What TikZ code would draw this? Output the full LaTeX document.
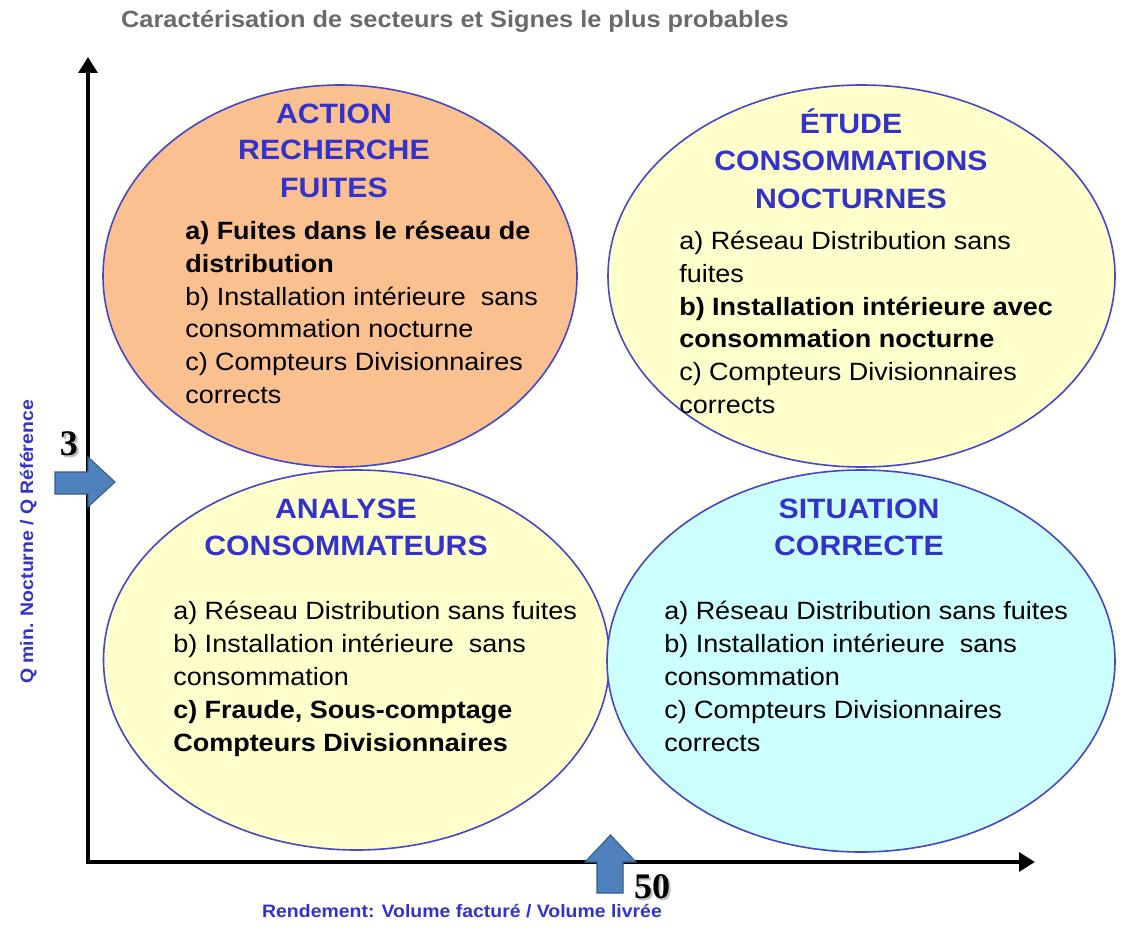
\documentclass[tikz,border=0pt]{standalone}
\usepackage{fontspec}
\setmainfont{Liberation Sans}[FakeStretch=1.08]
\newfontfamily\numfont{Liberation Serif}
\usetikzlibrary{shapes.geometric,arrows.meta}
\definecolor{ellborder}{HTML}{4646C8}
\definecolor{headblue}{HTML}{3333CC}
\definecolor{orangefill}{HTML}{FAC090}
\definecolor{yellowfill}{HTML}{FFFFCC}
\definecolor{cyanfill}{HTML}{CCFFFF}
\definecolor{titlegray}{HTML}{6A6A6A}
\definecolor{blockfill}{HTML}{4F81BD}
\definecolor{blockdraw}{HTML}{385D8A}
\tikzset{
  sector/.style={ellipse, draw=ellborder, line width=1.2pt, inner sep=0pt},
  headtxt/.style={anchor=base, inner sep=0pt, text=headblue, font=\fontsize{21}{27}\selectfont\bfseries},
  bodytxt/.style={anchor=base west, inner sep=0pt, font=\fontsize{18.75}{24}\selectfont},
  bodybold/.style={anchor=base west, inner sep=0pt, font=\fontsize{18.75}{24}\selectfont\bfseries},
  axislabel/.style={anchor=base, inner sep=0pt, text=headblue, font=\fontsize{13.5}{16}\selectfont\bfseries},
  numtxt/.style={anchor=base, inner sep=0pt, font=\fontsize{27}{30}\numfont\bfseries},
  numshadow/.style={numtxt, text=black!25},
  axisline/.style={line width=3pt, -{Triangle[width=14pt,length=12pt]}},
  blockarrow/.style={fill=blockfill, draw=blockdraw, line width=0.8pt, line join=miter}
}
\begin{document}
\begin{tikzpicture}[x=0.75pt,y=-0.75pt]
\useasboundingbox (0,0) rectangle (1129,931);
\fill[white] (0,0) rectangle (1129,931);

% title
\node[anchor=base, inner sep=0pt, text=titlegray, font=\fontsize{17.6}{20}\selectfont\bfseries] (title) at (455,28) {Caractérisation de secteurs et Signes le plus probables};

% ellipses
\node[sector, fill=orangefill, minimum width=355.5pt, minimum height=286.5pt] (tl) at (340,276) {};
\node[sector, fill=yellowfill, minimum width=380.25pt, minimum height=286.5pt] (tr) at (861.5,276) {};
\node[sector, fill=yellowfill, minimum width=379.5pt, minimum height=285pt] (bl) at (356.5,660) {};
\node[sector, fill=cyanfill, minimum width=381pt, minimum height=286.5pt] (br) at (861,661) {};

% axes
\coordinate (origin) at (88,862);
\coordinate (ytop) at (88,57);
\coordinate (xend) at (1035,862);
\coordinate (ystart) at (88,863.5);
\coordinate (xstart) at (86.5,862);
\draw[axisline] (ystart) -- (ytop);
\draw[axisline] (xstart) -- (xend);

% block arrows
\draw[blockarrow] (55,472) -- (88,472) -- (88,457) -- (115,482) -- (88,507) -- (88,494) -- (55,494) -- cycle;
\draw[blockarrow] (597,893) -- (597,862) -- (585,862) -- (610.5,835) -- (636,862) -- (623,862) -- (623,893) -- cycle;

% numbers
\node[numshadow] (threesh) at (71,457) {3};
\node[numtxt] (three) at (69,455) {3};
\node[numshadow] (fiftysh) at (654,900) {50};
\node[numtxt] (fifty) at (652,898) {50};

% axis labels
\node[axislabel] (xlabel) at (462,917) {Rendement: Volume facturé / Volume livrée};
\node[axislabel, rotate=90] (ylabel) at (33,542) {Q min. Nocturne / Q Référence};

% top-left
\node[headtxt] (tlh1) at (334,123) {ACTION};
\node[headtxt] (tlh2) at (334,160) {RECHERCHE};
\node[headtxt] (tlh3) at (334,197) {FUITES};
\node[bodybold] (tl1) at (185,239) {a) Fuites dans le réseau de};
\node[bodybold] (tl2) at (185,272) {distribution};
\node[bodytxt] (tl3) at (185,305) {b) Installation intérieure~~sans};
\node[bodytxt] (tl4) at (185,337) {consommation nocturne};
\node[bodytxt] (tl5) at (185,370) {c) Compteurs Divisionnaires};
\node[bodytxt] (tl6) at (185,403) {corrects};

% top-right
\node[headtxt] (trh1) at (851,133) {ÉTUDE};
\node[headtxt] (trh2) at (851,171) {CONSOMMATIONS};
\node[headtxt] (trh3) at (851,208) {NOCTURNES};
\node[bodytxt] (tr1) at (679,249) {a) Réseau Distribution sans};
\node[bodytxt] (tr2) at (679,282) {fuites};
\node[bodybold] (tr3) at (679,315) {b) Installation intérieure avec};
\node[bodybold] (tr4) at (679,347) {consommation nocturne};
\node[bodytxt] (tr5) at (679,380) {c) Compteurs Divisionnaires};
\node[bodytxt] (tr6) at (679,413) {corrects};

% bottom-left
\node[headtxt] (blh1) at (346,518) {ANALYSE};
\node[headtxt] (blh2) at (346,555) {CONSOMMATEURS};
\node[bodytxt] (bl1) at (173,619) {a) Réseau Distribution sans fuites};
\node[bodytxt] (bl2) at (173,652) {b) Installation intérieure~~sans};
\node[bodytxt] (bl3) at (173,685) {consommation};
\node[bodybold] (bl4) at (173,718) {c) Fraude, Sous-comptage};
\node[bodybold] (bl5) at (173,751) {Compteurs Divisionnaires};

% bottom-right
\node[headtxt] (brh1) at (859,518) {SITUATION};
\node[headtxt] (brh2) at (859,555) {CORRECTE};
\node[bodytxt] (br1) at (664,619) {a) Réseau Distribution sans fuites};
\node[bodytxt] (br2) at (664,652) {b) Installation intérieure~~sans};
\node[bodytxt] (br3) at (664,685) {consommation};
\node[bodytxt] (br4) at (664,718) {c) Compteurs Divisionnaires};
\node[bodytxt] (br5) at (664,751) {corrects};
\end{tikzpicture}
\end{document}
